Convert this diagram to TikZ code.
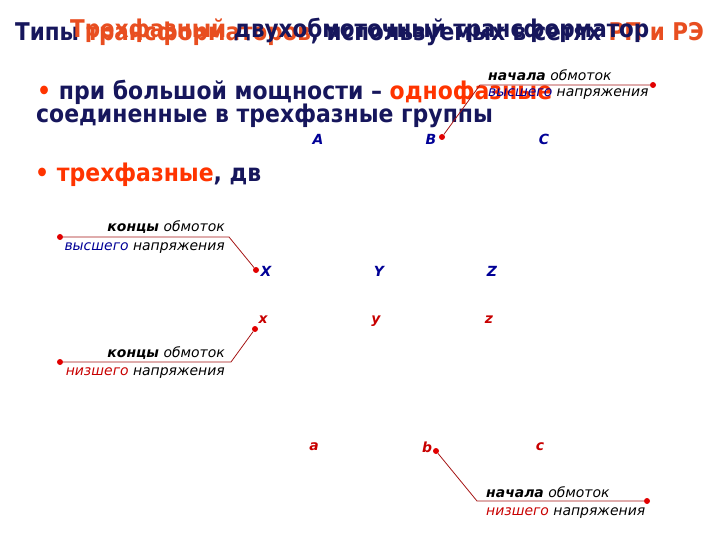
\documentclass[tikz,border=0pt]{standalone}
\usepackage{fontspec}
\setmainfont{DejaVu Sans}
\newfontfamily\slidefont[FakeStretch=0.88]{DejaVu Sans}
\newfontfamily\bodyfont[FakeStretch=0.9]{DejaVu Sans}
\usetikzlibrary{positioning}
\definecolor{navy}{RGB}{22,22,92}
\definecolor{hvblue}{RGB}{0,0,150}
\definecolor{titlered}{RGB}{232,78,32}
\definecolor{orred}{RGB}{255,52,0}
\definecolor{lvred}{RGB}{200,0,0}
\definecolor{leadred}{RGB}{165,20,20}
\definecolor{pinred}{RGB}{225,0,0}

\begin{document}
\begin{tikzpicture}[x=1bp,y=-1bp,
    title/.style={font=\slidefont\fontsize{24.5}{27}\selectfont\bfseries, text=navy, inner sep=0pt},
    body/.style={font=\bodyfont\fontsize{24.5}{27}\selectfont\bfseries, text=navy, inner sep=0pt},
    lbl/.style={font=\fontsize{14}{16}\selectfont\itshape, inner sep=0pt},
    phase/.style={font=\fontsize{14}{16}\selectfont\bfseries\itshape, inner sep=1pt},
    pin/.style={circle, fill=pinred, inner sep=0pt, minimum size=6bp},
    lead/.style={draw=leadred, line width=0.8bp}]
    \useasboundingbox (0,0) rectangle (720,540);

    %Two slide titles lying over one another
    \node[title, anchor=base west] (ttypes) at (15,41)
        {Типы \textcolor{titlered}{трансформаторов}, используемых в сетях \textcolor{titlered}{РП и РЭ}};
    \node[title, anchor=base west] (tthree) at (70,38)
        {\textcolor{titlered}{Трехфазный} двухобмоточный трансформатор};

    %Bullet text
    \node[body, anchor=base west] (bigpow) at (37,100)
        {\textcolor{orred}{•} при большой мощности – \textcolor{orred}{однофазные}};
    \node[body, anchor=base west] (groups) at (36,123) {соединенные в трехфазные группы};
    \node[body, anchor=base west] (threeph) at (35,182)
        {\textcolor{orred}{•} \textcolor{orred}{трехфазные}, дв};

    \pgfmathsetmacro {\dp}{113}  %Spacing of phases

    %Winding terminals
    \foreach \k [count=\i from 0] in {A,B,C}
        \node[phase, text=hvblue] (p\k) at (318+\dp*\i,139) {\k};
    \foreach \k [count=\i from 0] in {X,Y,Z}
        \node[phase, text=hvblue] (p\k) at (266+\dp*\i,271) {\k};
    \foreach \k [count=\i from 0] in {x,y,z}
        \node[phase, text=lvred] (p\k) at (263+\dp*\i,320) {\k};
    \foreach \k [count=\i from 0] in {a,b,c}
        \node[phase, text=lvred] (p\k) at (314+\dp*\i,447) {\k};

    %Starts of HV windings
    \node[pin] (dB) at (442,137) {};
    \coordinate (kB) at (480,85);
    \node[pin] (eB) at (653,85) {};
    \draw[lead] (dB) -- (kB) -- (eB);
    \node[lbl, anchor=base west] (sHV) at (488,81) {\textbf{начала} обмоток};
    \node[lbl, anchor=base west] (sHV2) at (488,97) {\textcolor{hvblue}{высшего} напряжения};

    %Ends of HV windings
    \node[pin] (dX) at (256,270) {};
    \coordinate (kX) at (229,237);
    \node[pin] (eX) at (60,237) {};
    \draw[lead] (dX) -- (kX) -- (eX);
    \node[lbl, anchor=base east] (eHV) at (225,232) {\textbf{концы} обмоток};
    \node[lbl, anchor=base east] (eHV2) at (225,251) {\textcolor{hvblue}{высшего} напряжения};

    %Ends of LV windings
    \node[pin] (dx) at (255,329) {};
    \coordinate (kx) at (231,362);
    \node[pin] (ex) at (60,362) {};
    \draw[lead] (dx) -- (kx) -- (ex);
    \node[lbl, anchor=base east] (eLV) at (225,357) {\textbf{концы} обмоток};
    \node[lbl, anchor=base east] (eLV2) at (225,375) {\textcolor{lvred}{низшего} напряжения};

    %Starts of LV windings
    \node[pin] (db) at (436,451) {};
    \coordinate (kb) at (477,501);
    \node[pin] (eb) at (647,501) {};
    \draw[lead] (db) -- (kb) -- (eb);
    \node[lbl, anchor=base west] (sLV) at (486,497) {\textbf{начала} обмоток};
    \node[lbl, anchor=base west] (sLV2) at (486,515) {\textcolor{lvred}{низшего} напряжения};
\end{tikzpicture}
\end{document}
